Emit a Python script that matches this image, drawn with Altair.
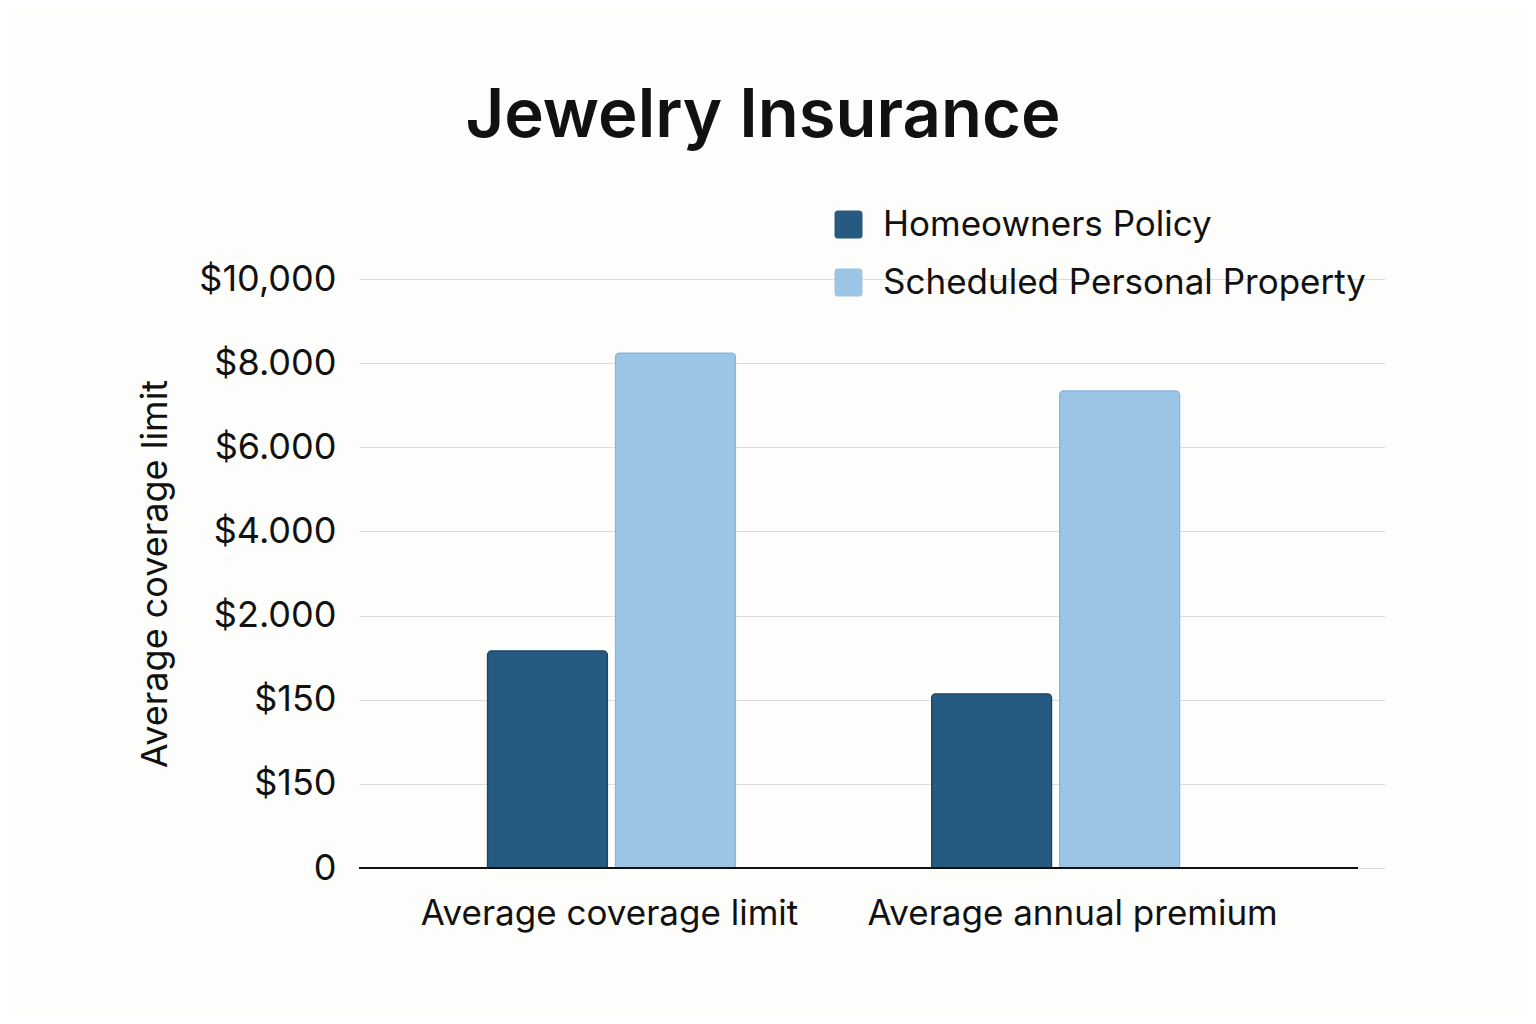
import altair as alt
import pandas as pd

categories = ["Average coverage limit", "Average annual premium"]
series = ["Homeowners Policy", "Scheduled Personal Property"]
homeowners = [2.58, 2.07]
scheduled = [6.12, 5.67]
tick_labels = ["0", "$150", "$150", "$2.000", "$4.000", "$6.000", "$8.000", "$10,000"]
colors = ["#275a80", "#9bc4e5"]
strokes = ["#1d4466", "#86b6de"]

rows = []
for i, c in enumerate(categories):
    rows.append({"category": c, "series": series[0], "value": homeowners[i]})
    rows.append({"category": c, "series": series[1], "value": scheduled[i]})
df = pd.DataFrame(rows)

FONT = "Inter"
label_expr = "[" + ",".join("'%s'" % t for t in tick_labels) + "][datum.value]"
rounded_square = ("M-0.75,-1 H0.75 Q1,-1 1,-0.75 V0.75 Q1,1 0.75,1 H-0.75 "
                  "Q-1,1 -1,0.75 V-0.75 Q-1,-1 -0.75,-1 Z")

base = alt.Chart(df)

bars = base.mark_bar(cornerRadiusTopLeft=4, cornerRadiusTopRight=4, strokeWidth=1.2).encode(
    x=alt.X("category:N", sort=categories,
            scale=alt.Scale(paddingInner=0.43, paddingOuter=0.37, align=0.383),
            axis=alt.Axis(title=None, labelAngle=0, labelFontSize=35, labelFont=FONT,
                          labelColor="#111", labelPadding=28, ticks=False, domain=False,
                          labelFontWeight=400, labelLimit=800,
                          labelOffset={"condition": {"test": "datum.value === 'Average annual premium'",
                                                     "value": 17}, "value": -2})),
    xOffset=alt.XOffset("series:N", sort=series,
                        scale=alt.Scale(paddingInner=0.0625, paddingOuter=0.02)),
    y=alt.Y("value:Q", scale=alt.Scale(domain=[0, 7], nice=False),
            axis=alt.Axis(title="Average coverage limit", values=list(range(8)),
                          labelExpr=label_expr, labelFontSize=36, labelFont=FONT,
                          labelColor="#111", labelPadding=23, ticks=False, domain=False,
                          grid=True, gridColor="#dddddd", gridWidth=1,
                          titleFontSize=36, titleFont=FONT, titleFontWeight=400,
                          titleColor="#111", titlePadding=24)),
    color=alt.Color("series:N", sort=series,
                    scale=alt.Scale(domain=series, range=colors),
                    legend=alt.Legend(title=None, orient="none", legendX=472, legendY=-72,
                                      symbolType=rounded_square, symbolSize=784,
                                      symbolStrokeWidth=0, labelFontSize=35,
                                      labelFont=FONT, labelColor="#111",
                                      labelOffset=17, rowPadding=22, labelLimit=600)),
    stroke=alt.Stroke("series:N", sort=series,
                      scale=alt.Scale(domain=series, range=strokes), legend=None),
)

baseline = base.mark_rule(color="#111", strokeWidth=2).encode(
    x=alt.value(0), x2=alt.value(999), y=alt.datum(0)
)

chart = alt.layer(bars, baseline).properties(
    width=1026, height=589,
    autosize=alt.AutoSizeParams(type="none"),
    padding={"left": 351, "top": 271, "right": 143, "bottom": 148},
    background="#fdfdfb",
    title=alt.TitleParams("Jewelry Insurance", fontSize=67, font=FONT, fontWeight=600,
                          color="#111", anchor="middle", frame="group", dx=-109,
                          baseline="alphabetic", offset=3),
).configure_view(stroke=None)

chart.save("out.html", embed_options={"renderer": "svg", "actions": False})
